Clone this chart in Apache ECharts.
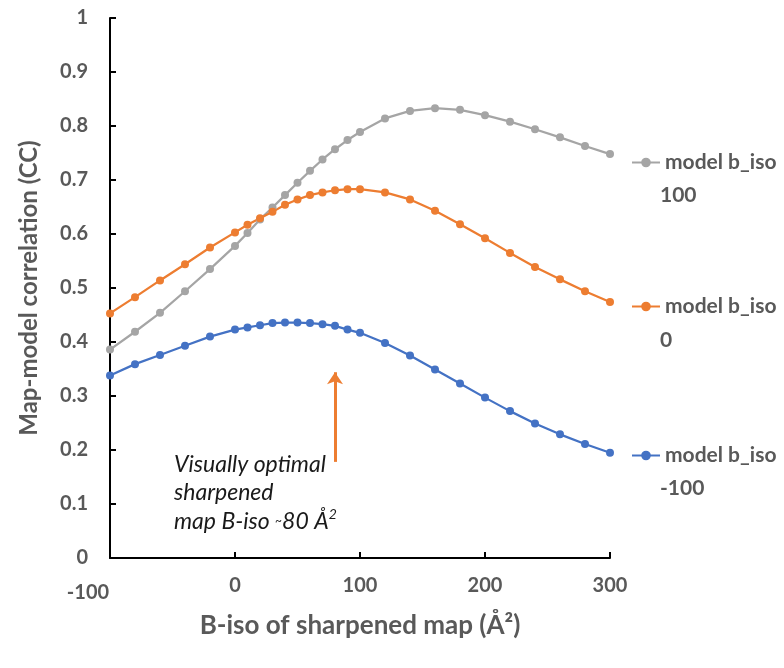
<!DOCTYPE html>
<html>
<head>
<meta charset="utf-8">
<script src="https://cdn.jsdelivr.net/npm/echarts@6/dist/echarts.min.js"></script>
<style>
  html, body { margin: 0; padding: 0; background: #fff; }
  #chart { width: 784px; height: 668px; }
</style>
</head>
<body>
<div id="chart"></div>
<script>
// B-iso of sharpened map
var bIso = [-100, -80, -60, -40, -20, 0, 10, 20, 30, 40, 50, 60, 70, 80, 90, 100, 120, 140, 160, 180, 200, 220, 240, 260, 280, 300];
// map-model CC per model b_iso
var cc100 = [0.386, 0.419, 0.454, 0.494, 0.535, 0.578, 0.602, 0.627, 0.649, 0.672, 0.695, 0.717, 0.738, 0.757, 0.774, 0.789, 0.814, 0.828, 0.833, 0.830, 0.820, 0.808, 0.794, 0.779, 0.763, 0.748];
var cc0 = [0.453, 0.483, 0.514, 0.544, 0.575, 0.603, 0.617, 0.629, 0.641, 0.654, 0.664, 0.672, 0.677, 0.681, 0.683, 0.683, 0.677, 0.664, 0.643, 0.618, 0.592, 0.565, 0.539, 0.516, 0.494, 0.474];
var ccMinus100 = [0.338, 0.359, 0.376, 0.393, 0.410, 0.423, 0.427, 0.431, 0.435, 0.436, 0.436, 0.435, 0.433, 0.430, 0.423, 0.417, 0.398, 0.375, 0.349, 0.323, 0.297, 0.272, 0.249, 0.229, 0.211, 0.195];
// arrow: optimal b-iso ~80
var arrowX = 80;
var arrowY = [0.178, 0.344];

var FONT = 'Lato';
var GREY_TXT = '#595959';

function pairs(ys) {
    return bIso.map(function (x, i) { return [x, ys[i]]; });
}

function lineSeries(name, color, ys) {
    return {
        name: name,
        type: 'line',
        data: pairs(ys),
        symbol: 'circle',
        symbolSize: 8,
        lineStyle: { color: color, width: 2.25 },
        itemStyle: { color: color },
        animation: false
    };
}

function legendAt(name, top) {
    return {
        data: [name],
        left: 626,
        top: top,
        orient: 'vertical',
        itemWidth: 28,
        itemHeight: 12,
        itemGap: 0,
        selectedMode: false,
        formatter: function () { return 'model b_iso'; },
        textStyle: { fontFamily: FONT, fontWeight: 'bold', fontSize: 21, color: GREY_TXT }
    };
}

function subLabel(text, top) {
    return {
        type: 'text',
        left: 660,
        top: top,
        style: { text: text, fontFamily: FONT, fontWeight: 'bold', fontSize: 21, fill: GREY_TXT }
    };
}

var myChart = echarts.init(document.getElementById('chart'));

var seriesOrange = lineSeries('model b_iso 0', '#ED7D31', cc0);
seriesOrange.markLine = {
    silent: true,
    animation: false,
    symbol: ['none', 'arrow'],
    symbolSize: 12,
    label: { show: false },
    lineStyle: { color: '#ED7D31', width: 3, type: 'solid' },
    data: [[{ coord: [arrowX, arrowY[0]] }, { coord: [arrowX, arrowY[1]] }]]
};

var options = {
    backgroundColor: '#fff',
    grid: { left: 110, right: 174, top: 18, bottom: 110, containLabel: false },
    xAxis: {
        type: 'value',
        min: -100,
        max: 300,
        interval: 100,
        name: 'B-iso of sharpened map (Å²)',
        nameLocation: 'middle',
        nameGap: 55,
        nameTextStyle: { fontFamily: FONT, fontWeight: 'bold', fontSize: 26, color: GREY_TXT },
        axisLine: { onZero: false, lineStyle: { color: '#000', width: 2 } },
        axisTick: { inside: true, length: 6, lineStyle: { color: '#000', width: 2 } },
        splitLine: { show: false },
        axisLabel: {
            margin: 18,
            fontFamily: FONT, fontWeight: 'bold', fontSize: 20, color: GREY_TXT,
            formatter: function (v) { return v === -100 ? '{m|-100}' : String(v); },
            rich: { m: { fontFamily: FONT, fontWeight: 'bold', fontSize: 20, color: GREY_TXT, padding: [7, 44, 0, 0] } }
        }
    },
    yAxis: {
        type: 'value',
        min: 0,
        max: 1,
        interval: 0.1,
        name: 'Map-model correlation (CC)',
        nameLocation: 'middle',
        nameGap: 69,
        nameTextStyle: { fontFamily: FONT, fontWeight: 'bold', fontSize: 24, color: GREY_TXT },
        axisLine: { show: true, onZero: false, lineStyle: { color: '#000', width: 2 } },
        axisTick: { show: true, inside: true, length: 6, lineStyle: { color: '#000', width: 2 } },
        splitLine: { show: false },
        axisLabel: {
            margin: 22,
            fontFamily: FONT, fontWeight: 'bold', fontSize: 20, color: GREY_TXT,
            formatter: function (v) { return String(Math.round(v * 10) / 10); }
        }
    },
    legend: [
        legendAt('model b_iso 100', 147),
        legendAt('model b_iso 0', 291),
        legendAt('model b_iso -100', 440)
    ],
    graphic: [
        subLabel('100', 185),
        subLabel('0', 330),
        subLabel('-100', 478),
        {
            type: 'text',
            left: 174,
            top: 450,
            style: {
                text: 'Visually optimal\nsharpened\nmap B-iso {s|~}80 Å{sup|2}',
                fontFamily: FONT, fontStyle: 'italic', fontSize: 23, fill: '#1a1a1a',
                lineHeight: 28.5,
                rich: {
                    s: { fontFamily: FONT, fontStyle: 'italic', fontSize: 12, fill: '#1a1a1a', lineHeight: 28.5 },
                    sup: { fontFamily: FONT, fontStyle: 'italic', fontSize: 14, fill: '#1a1a1a', lineHeight: 28.5, verticalAlign: 'top', padding: [0, 0, 10, 0] }
                }
            }
        }
    ],
    series: [
        lineSeries('model b_iso 100', '#A5A5A5', cc100),
        seriesOrange,
        lineSeries('model b_iso -100', '#4472C4', ccMinus100)
    ]
};
myChart.setOption(options);
window.onresize = myChart.resize;
</script>
</body>
</html>
